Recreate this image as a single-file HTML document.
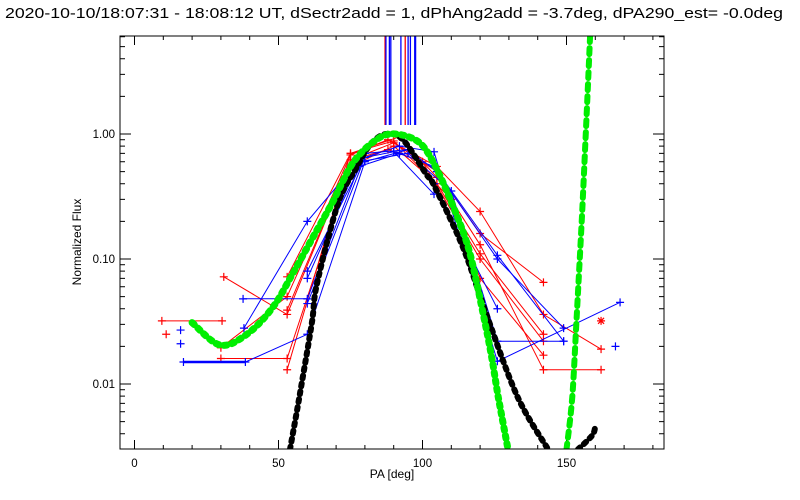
<!DOCTYPE html>
<html><head><meta charset="utf-8"><style>
body{margin:0;background:#fff}
svg{display:block;font-family:"Liberation Sans",sans-serif}
</style></head><body>
<svg id="chart" width="800" height="500" xmlns="http://www.w3.org/2000/svg">
<text x="5" y="18" textLength="778" lengthAdjust="spacingAndGlyphs" font-size="15" fill="#000">2020-10-10/18:07:31 - 18:08:12 UT, dSectr2add = 1, dPhAng2add = -3.7deg, dPA290_est= -0.0deg</text>
<text x="392" y="478" text-anchor="middle" font-size="12">PA [deg]</text>
<text transform="translate(81,242) rotate(-90)" text-anchor="middle" font-size="12">Normalized Flux</text>
<g id="axes"></g>
<g id="marks"></g>
<rect x="120" y="36" width="544" height="413" fill="none" stroke="#000" stroke-width="1"/>
</svg>
<script>
const xTicks=[0,50,100,150];
const yTicks=[0.01,0.1,1];
const yTickLabels=["0.01","0.10","1.00"];
const blackPA=[54,57.5,61.6,63.4,70.7,76.6,81.8,87.3,93.2,101.5,103.6,114,122.4,133,143.6];
const blackFlux=[0.003,0.0085,0.031,0.064,0.28,0.515,0.82,1.0,0.9,0.47,0.405,0.125,0.035,0.0079,0.003];
const black2PA=[154,159,160];
const black2Flux=[0.003,0.0039,0.0047];
const greenPA=[20,29.7,39,48,55,62,68.6,75.9,84,90.5,99,105,112,116.5,121,124,126.3,129.7];
const greenFlux=[0.031,0.0205,0.025,0.041,0.077,0.15,0.28,0.59,0.9,1.0,0.85,0.52,0.22,0.11,0.037,0.0165,0.0079,0.003];
const green2PA=[150,152,153.6,155.4,156.5,158.2];
const green2Flux=[0.003,0.0079,0.037,0.23,0.8,6.1];
const barPA=[87,87.3,88.5,89,92.5,94,95,95.8,97.3,97.6];
const barColors=["red","blue","blue","blue","blue","red","blue","blue","blue","blue"];
const barBase=1.18;
const redPA=[[31,53,75,90,105,120,142],[9.5,30.4],[30,53,75,88,105,120,142,162],[30,53,75,90,105,120,142],[11],[53,75,92,105,120,142,162],[53,75,88,100,120,142],[53,75,90,110,120,142]];
const redFlux=[[0.072,0.036,0.62,0.85,0.5,0.16,0.065],[0.032,0.032],[0.0195,0.05,0.68,0.9,0.55,0.24,0.036,0.019],[0.016,0.016,0.55,0.8,0.4,0.11,0.025],[0.025],[0.013,0.7,0.95,0.45,0.13,0.013,0.013],[0.039,0.62,0.75,0.6,0.1,0.022],[0.072,0.7,0.88,0.3,0.07,0.017]];
const bluePA=[[16],[16],[17,38.5,60,80,95,104,126],[37.7,60,78,92,104,126,149],[38,60,80,95,105,126,149],[60,80,92,104,126,168.6],[60,78,95,110,126,149],[60,80,90,104],[167]];
const blueFlux=[[0.027],[0.021],[0.015,0.015,0.025,0.6,0.75,0.4,0.04],[0.048,0.048,0.55,0.7,0.55,0.107,0.022],[0.028,0.2,0.7,0.75,0.5,0.1,0.028],[0.08,0.65,0.8,0.72,0.0152,0.045],[0.07,0.6,0.7,0.35,0.022,0.022],[0.044,0.65,0.72,0.33],[0.02]];
const starPA=[162];
const starFlux=[0.032];

const NS="http://www.w3.org/2000/svg";
const X0=120,X1=664,Y0=36,Y1=449;
function xs(d){return 134.5+d*2.88;}
function ys(v){return 134-Math.log10(v)*125;}
const axes=document.getElementById('axes');
const marks=document.getElementById('marks');
function mk(tag,attrs,parent){const e=document.createElementNS(NS,tag);for(const k in attrs)e.setAttribute(k,attrs[k]);parent.appendChild(e);return e;}
for(let d=0;d<=180;d+=10){
  const x=xs(d);const major=d%50===0;const L=major?9:4;
  const t1=mk('line',{x1:x,x2:x,y1:Y1,y2:Y1-L,stroke:'#000'},axes);
  
  
  const t2=mk('line',{x1:x,x2:x,y1:Y0,y2:Y0+L,stroke:'#000'},axes);
  
  
}
xTicks.forEach(d=>{
  const t=mk('text',{x:xs(d),y:467,'text-anchor':'middle','font-size':'11.5'},axes);t.textContent=d;
  
  
});
for(let e=-3;e<=0;e++){for(let m=1;m<=9;m++){
  const v=m*Math.pow(10,e);const y=ys(v);if(y<Y0||y>Y1)continue;
  const L=m===1?11:5;
  const t1=mk('line',{x1:X0,x2:X0+L,y1:y,y2:y,stroke:'#000'},axes);
  
  
  const t2=mk('line',{x1:X1,x2:X1-L,y1:y,y2:y,stroke:'#000'},axes);
  
  
}}
yTicks.forEach((v,i)=>{
  const t=mk('text',{x:115,y:ys(v)+4,'text-anchor':'end','font-size':'11.5'},axes);t.textContent=yTickLabels[i];
  
  
});
const defs=mk('defs',{},marks);
const cp=mk('clipPath',{id:'clip'},defs);
mk('rect',{x:X0,y:Y0,width:X1-X0,height:Y1-Y0},cp);
const g=mk('g',{'clip-path':'url(#clip)'},marks);
function pts(pa,fl){return pa.map((d,i)=>xs(d).toFixed(1)+','+ys(fl[i]).toFixed(1)).join(' ');}
barPA.forEach((d,i)=>{
  const l=mk('line',{x1:xs(d),x2:xs(d),y1:Y0,y2:ys(barBase),stroke:barColors[i],'stroke-width':1.3},g);
  
  
});
function plus(x,y,c,n){const p=mk('path',{d:`M${x-4},${y}h8M${x},${y-4}v8`,stroke:c,'stroke-width':1.2,fill:'none'},g);
  
  }
function series(PA,FL,c,n){PA.forEach((pa,i)=>{
  if(pa.length>1){const l=mk('polyline',{points:pts(pa,FL[i]),fill:'none',stroke:c,'stroke-width':1},g);
    
    }
  pa.forEach((d,j)=>plus(xs(d),ys(FL[i][j]),c,n+'-point'));
});}
series(redPA,redFlux,'#ff0000','red-series');
series(bluePA,blueFlux,'#0000ff','blue-series');
const tb=mk('line',{x1:xs(17),x2:xs(38.5),y1:ys(0.015),y2:ys(0.015),stroke:'#0000ff','stroke-width':2.5},g);


starPA.forEach((d,i)=>{const x=xs(d),y=ys(starFlux[i]);
  const s=mk('path',{d:`M${x-4},${y}h8M${x},${y-4}v8M${x-3},${y-3}l6,6M${x-3},${y+3}l6,-6`,stroke:'#ff0000','stroke-width':1.2},g);
  
  });
function smoothPath(pa,fl){
  const P=pa.map((d,i)=>[xs(d),ys(fl[i])]);
  let s=`M${P[0][0].toFixed(1)},${P[0][1].toFixed(1)}`;
  for(let i=0;i<P.length-1;i++){
    const p0=P[Math.max(0,i-1)],p1=P[i],p2=P[i+1],p3=P[Math.min(P.length-1,i+2)];
    const c1=[p1[0]+(p2[0]-p0[0])/6,p1[1]+(p2[1]-p0[1])/6];
    const c2=[p2[0]-(p3[0]-p1[0])/6,p2[1]-(p3[1]-p1[1])/6];
    s+=`C${c1[0].toFixed(1)},${c1[1].toFixed(1)} ${c2[0].toFixed(1)},${c2[1].toFixed(1)} ${p2[0].toFixed(1)},${p2[1].toFixed(1)}`;
  }
  return s;
}
function curve(pa,fl,c,w,dash,n){const l=mk('path',{d:smoothPath(pa,fl),fill:'none',stroke:c,'stroke-width':w,'stroke-dasharray':dash,'stroke-linecap':'round'},g);
  
  }
curve(blackPA,blackFlux,'#000',6,'3 5','black-fit-curve');
curve(black2PA,black2Flux,'#000',6,'3 5','black-fit-curve-2');
curve(greenPA,greenFlux,'#00ee00',7,'3 5','green-fit-curve');
curve(green2PA,green2Flux,'#00ee00',6,'6 6','green-fit-curve-2');
</script>
</body></html>
